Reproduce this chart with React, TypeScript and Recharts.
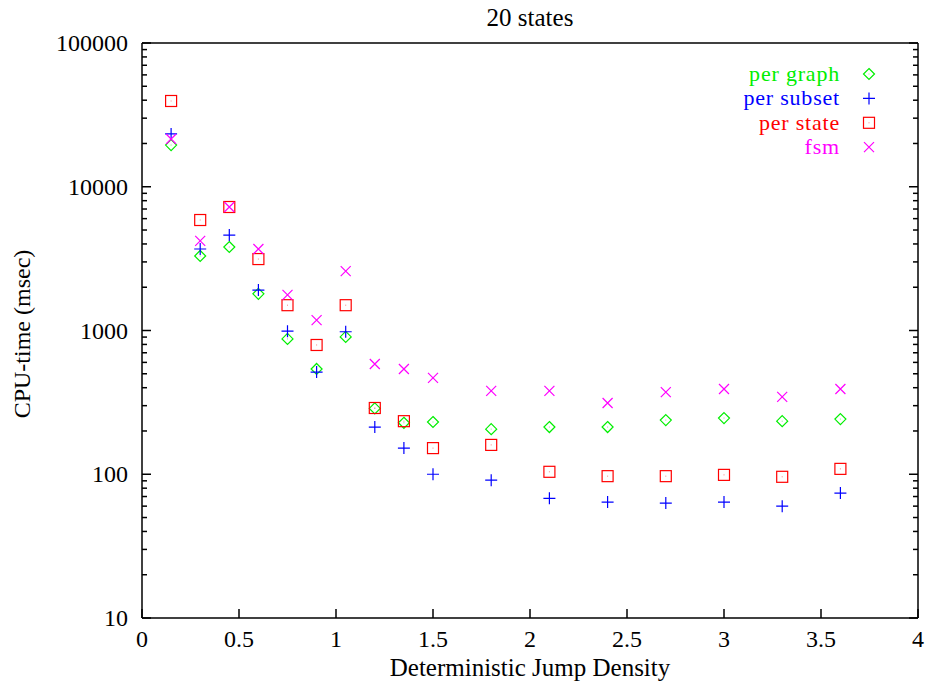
import React from "react"
import { ScatterChart, Scatter, XAxis, YAxis } from "recharts"

// ─── Data ────────────────────────────────────────────────────────────────────

const density = [0.15, 0.3, 0.45, 0.6, 0.75, 0.9, 1.05, 1.2, 1.35, 1.5, 1.8, 2.1, 2.4, 2.7, 3.0, 3.3, 3.6]
const perGraph = [19500, 3300, 3810, 1800, 874, 540, 902, 287, 228, 231, 206, 213, 213, 238, 246, 234, 242]
const perSubset = [23300, 3690, 4610, 1910, 990, 514, 980, 213, 152, 100, 91, 68, 64, 63, 64, 60, 74]
const perState = [39500, 5870, 7230, 3140, 1500, 793, 1500, 289, 234, 152, 160, 104, 97, 97, 99, 96, 109]
const fsm = [21500, 4200, 7230, 3690, 1770, 1180, 2590, 585, 540, 468, 380, 380, 313, 373, 392, 345, 392]

const xTicks = [0, 0.5, 1, 1.5, 2, 2.5, 3, 3.5, 4]
const yMajor = [10, 100, 1000, 10000, 100000]
const yTicks = [
  ...yMajor.slice(0, -1).flatMap((d) => [1, 2, 3, 4, 5, 6, 7, 8, 9].map((k) => k * d)),
  100000,
]

const FONT = "'Liberation Serif', 'Times New Roman', serif"

type MarkerKind = "diamond" | "plus" | "square" | "cross"

const SERIES: { name: string; color: string; kind: MarkerKind; values: number[] }[] = [
  { name: "per graph", color: "#00ee00", kind: "diamond", values: perGraph },
  { name: "per subset", color: "#0000ff", kind: "plus", values: perSubset },
  { name: "per state", color: "#ff0000", kind: "square", values: perState },
  { name: "fsm", color: "#ff00ff", kind: "cross", values: fsm },
]

// ─── Markers (gnuplot point types) ───────────────────────────────────────────

function Marker({ kind, cx, cy, color }: { kind: MarkerKind; cx: number; cy: number; color: string }) {
  const sw = 1.2
  if (kind === "diamond") {
    const r = 5.5
    return (
      <g>
        <path d={`M${cx},${cy - r}L${cx + r},${cy}L${cx},${cy + r}L${cx - r},${cy}Z`} fill="none" stroke={color} strokeWidth={sw} />
        <rect x={cx - 0.5} y={cy - 0.5} width={1} height={1} fill={color} opacity={0.5} />
      </g>
    )
  }
  if (kind === "plus") {
    const r = 6
    return <path d={`M${cx - r},${cy}H${cx + r}M${cx},${cy - r}V${cy + r}`} stroke={color} strokeWidth={sw} />
  }
  if (kind === "square") {
    const r = 5.5
    return (
      <g>
        <rect x={cx - r} y={cy - r} width={2 * r} height={2 * r} fill="none" stroke={color} strokeWidth={sw} />
        <rect x={cx - 0.5} y={cy - 0.5} width={1} height={1} fill={color} opacity={0.5} />
      </g>
    )
  }
  const r = 5
  return <path d={`M${cx - r},${cy - r}L${cx + r},${cy + r}M${cx - r},${cy + r}L${cx + r},${cy - r}`} stroke={color} strokeWidth={sw} />
}

// ─── Inward ticks ─────────────────────────────────────────────────────────────

const isMajor = (v: number) => Math.abs(Math.log10(v) - Math.round(Math.log10(v))) < 1e-9

function LeftTick({ x, y, payload }: any) {
  const major = isMajor(payload.value)
  return (
    <g>
      <line x1={x} x2={x + (major ? 9 : 5)} y1={y} y2={y} stroke="#000" strokeWidth={1.5} />
      {major && (
        <text x={x - 14} y={y + 8} textAnchor="end" fontFamily={FONT} fontSize={24} fill="#000">
          {payload.value}
        </text>
      )}
    </g>
  )
}

function RightTick({ x, y, payload }: any) {
  const major = isMajor(payload.value)
  return <line x1={x} x2={x - (major ? 9 : 5)} y1={y} y2={y} stroke="#000" strokeWidth={1.5} />
}

function BottomTick({ x, y, payload }: any) {
  return (
    <g>
      <line x1={x} x2={x} y1={y} y2={y - 9} stroke="#000" strokeWidth={1.5} />
      <text x={x} y={y + 29} textAnchor="middle" fontFamily={FONT} fontSize={24} fill="#000">
        {payload.value}
      </text>
    </g>
  )
}

function TopTick({ x, y }: any) {
  return <line x1={x} x2={x} y1={y} y2={y + 9} stroke="#000" strokeWidth={1.5} />
}

// ─── Key (top right, inside the frame) ────────────────────────────────────────

function KeyBox() {
  return (
    <svg width={240} height={110} style={{ position: "absolute", top: 50, left: 660 }}>
      {SERIES.map((s, i) => {
        const cy = 24 + i * 24.4
        return (
          <g key={s.name}>
            <text x={180} y={cy + 7} textAnchor="end" fontFamily={FONT} fontSize={22} letterSpacing={0.8} fill={s.color}>
              {s.name}
            </text>
            <Marker kind={s.kind} cx={209} cy={cy} color={s.color} />
          </g>
        )
      })}
    </svg>
  )
}

export default function App() {
  const axisLine = { stroke: "#000", strokeWidth: 1.5 }
  return (
    <div style={{ position: "absolute", left: 0, top: 0, width: 930, height: 684, background: "#fff" }}>
      <ScatterChart width={930} height={684} margin={{ top: 42, right: 11, bottom: 0, left: 0 }}>
        <XAxis
          xAxisId="b" type="number" dataKey="x" orientation="bottom" height={66}
          domain={[0, 4]} ticks={xTicks} interval={0} allowDataOverflow
          tickSize={0} tickMargin={0} tick={<BottomTick />} axisLine={axisLine} tickLine={false}
          label={{
            content: () => (
              <text x={530} y={676} textAnchor="middle" fontFamily={FONT} fontSize={25} fill="#000">
                Deterministic Jump Density
              </text>
            ),
          }}
        />
        <XAxis
          xAxisId="t" type="number" orientation="top" height={1}
          domain={[0, 4]} ticks={xTicks} interval={0} allowDataOverflow
          tickSize={0} tickMargin={0} tick={<TopTick />} axisLine={axisLine} tickLine={false}
          label={{
            content: () => (
              <text x={530} y={26} textAnchor="middle" fontFamily={FONT} fontSize={25} fill="#000">
                20 states
              </text>
            ),
          }}
        />
        <YAxis
          yAxisId="l" type="number" dataKey="y" scale="log" orientation="left" width={142}
          domain={[10, 100000]} ticks={yTicks} interval={0} allowDataOverflow
          tickSize={0} tickMargin={0} tick={<LeftTick />} axisLine={axisLine} tickLine={false}
          label={{
            content: () => (
              <text x={30} y={334} transform="rotate(-90 30 334)" textAnchor="middle" fontFamily={FONT} fontSize={24} fill="#000">
                CPU-time (msec)
              </text>
            ),
          }}
        />
        <YAxis
          yAxisId="r" type="number" scale="log" orientation="right" width={1}
          domain={[10, 100000]} ticks={yTicks} interval={0} allowDataOverflow
          tickSize={0} tickMargin={0} tick={<RightTick />} axisLine={axisLine} tickLine={false}
        />
        {SERIES.map((s) => (
          <Scatter
            key={s.name}
            name={s.name}
            xAxisId="b"
            yAxisId="l"
            data={density.map((x, i) => ({ x, y: s.values[i] }))}
            isAnimationActive={false}
            shape={(p: any) => <Marker kind={s.kind} cx={p.cx} cy={p.cy} color={s.color} />}
          />
        ))}
      </ScatterChart>
      <KeyBox />
    </div>
  )
}
